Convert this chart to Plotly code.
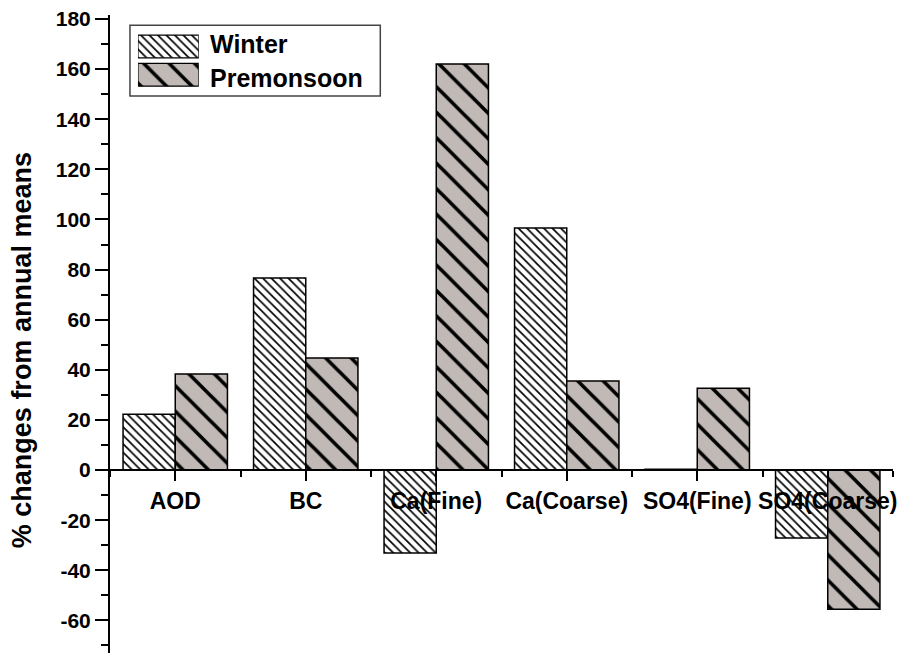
import plotly.graph_objects as go

categories = ["AOD", "BC", "Ca(Fine)", "Ca(Coarse)", "SO4(Fine)", "SO4(Coarse)"]
winter = [22.3, 76.6, -33.1, 96.6, 0.3, -27.1]
premonsoon = [38.3, 44.7, 162.0, 35.5, 32.7, -55.5]
series_names = ["Winter", "Premonsoon"]
y_title = "% changes from annual means"
ytick_vals = list(range(-60, 181, 20))
ytick_text = [str(v) for v in ytick_vals]

FONT = "Arial, Liberation Sans, sans-serif"
GRAY = "#c0b9b6"
xpos = list(range(len(categories)))

W_PAT = dict(shape="\\", size=6, solidity=0.28, fgcolor="black", bgcolor="white", fgopacity=1)
P_PAT = dict(shape="\\", size=18, solidity=0.2, fgcolor="black", bgcolor=GRAY, fgopacity=1)

fig = go.Figure()
fig.add_trace(go.Bar(
    x=xpos, y=winter, name=series_names[0], showlegend=False,
    marker=dict(color="white", line=dict(color="black", width=1.5), pattern=W_PAT),
))
fig.add_trace(go.Bar(
    x=xpos, y=premonsoon, name=series_names[1], showlegend=False,
    marker=dict(color=GRAY, line=dict(color="black", width=1.5), pattern=P_PAT),
))

# custom legend swatches
fig.add_trace(go.Bar(
    y=[0], x=[1], orientation="h", xaxis="x2", yaxis="y2", showlegend=False,
    width=0.8, offset=-0.4, hoverinfo="skip",
    marker=dict(color="white", line=dict(color="black", width=1.2), pattern=W_PAT),
))
fig.add_trace(go.Bar(
    y=[-1], x=[1], orientation="h", xaxis="x2", yaxis="y2", showlegend=False,
    width=0.8, offset=-0.4, hoverinfo="skip",
    marker=dict(color=GRAY, line=dict(color="black", width=1.2), pattern=P_PAT),
))

ymin, ymax = -73.0, 181.6
zero_pos = (0 - ymin) / (ymax - ymin)

fig.update_layout(
    width=899, height=655,
    margin=dict(l=110, r=4, t=15, b=2),
    paper_bgcolor="white", plot_bgcolor="white",
    barmode="group", bargap=0.2, bargroupgap=0,
    font=dict(family=FONT, color="black"),
    xaxis=dict(
        range=[-0.5, 5.5], anchor="free", position=zero_pos,
        tickmode="array", tickvals=xpos, ticktext=categories,
        showline=True, linecolor="black", linewidth=2,
        ticks="outside", ticklen=10, tickwidth=2, tickcolor="black",
        minor=dict(ticks="outside", ticklen=6, tickwidth=2, tickcolor="black",
                   tickmode="linear", tick0=0.5, dtick=1),
        tickfont=dict(size=23, family=FONT, weight="bold"),
        ticklabeloverflow="allow",
        showgrid=False, zeroline=False,
    ),
    yaxis=dict(
        range=[ymin, ymax],
        tickmode="array", tickvals=ytick_vals, ticktext=ytick_text,
        showline=True, linecolor="black", linewidth=2,
        ticks="outside", ticklen=13, tickwidth=2, tickcolor="black",
        minor=dict(ticks="outside", ticklen=7, tickwidth=2, tickcolor="black",
                   tickmode="linear", tick0=0, dtick=10),
        tickfont=dict(size=21, family=FONT, weight="bold"),
        showgrid=False, zeroline=False,
    ),
    xaxis2=dict(domain=[0.0357, 0.1134], anchor="y2", range=[0, 1], visible=False, fixedrange=True),
    yaxis2=dict(domain=[0.884, 0.973], anchor="x2", range=[-1.5, 0.5], visible=False, fixedrange=True),
    shapes=[dict(type="rect", xref="paper", yref="paper", x0=0.0255, x1=0.3452, y0=0.873, y1=0.984,
                 line=dict(color="#444", width=1.5), fillcolor="rgba(0,0,0,0)", layer="below")],
    annotations=[
        dict(text=series_names[0], xref="paper", yref="paper", x=0.1248, y=0.9553, xanchor="left",
             yanchor="middle", showarrow=False, font=dict(size=25, family=FONT, weight="bold")),
        dict(text=series_names[1], xref="paper", yref="paper", x=0.1248, y=0.902, xanchor="left",
             yanchor="middle", showarrow=False, font=dict(size=25, family=FONT, weight="bold")),
        dict(text=y_title, xref="paper", yref="paper", x=-0.1121, y=0.475, xanchor="center",
             yanchor="middle", textangle=-90, showarrow=False,
             font=dict(size=27, family=FONT, weight="bold")),
    ],
)

fig.write_html("out.html")
